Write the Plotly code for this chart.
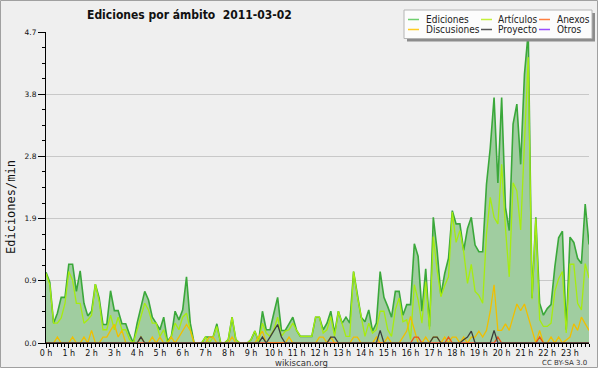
import plotly.graph_objects as go

# ---------------- data (10-minute bins, 2011-03-02) ----------------
hours_labels = [f"{h} h" for h in range(24)]
n_points = 144  # 0:00 .. 23:50

ediciones = [1.07, 0.92, 0.30, 0.45, 0.69, 0.69, 1.19, 1.19, 0.78, 1.09, 0.60, 0.41,
             0.48, 0.89, 0.68, 0.28, 0.28, 0.79, 0.49, 0.49, 0.29, 0.29, 0.13, 0.00,
             0.30, 0.55, 0.78, 0.65, 0.39, 0.30, 0.20, 0.39, 0.03, 0.10, 0.48, 0.35,
             0.50, 1.00, 0.30, 0.00, 0.00, 0.00, 0.09, 0.09, 0.09, 0.29, 0.00, 0.00,
             0.05, 0.39, 0.05, 0.00, 0.00, 0.00, 0.05, 0.18, 0.02, 0.48, 0.20, 0.20,
             0.45, 0.69, 0.19, 0.19, 0.29, 0.39, 0.19, 0.10, 0.10, 0.10, 0.10, 0.39,
             0.39, 0.20, 0.30, 0.48, 0.15, 0.48, 0.30, 0.39, 0.30, 1.08, 0.72, 0.39,
             0.32, 0.50, 0.18, 0.30, 1.08, 0.69, 0.55, 0.39, 0.78, 0.78, 0.42, 0.58,
             0.58, 1.50, 1.31, 0.48, 1.12, 0.25, 1.90, 1.40, 0.72, 1.05, 1.28, 2.00,
             1.80, 1.80, 1.40, 1.73, 1.90, 1.48, 1.38, 1.38, 2.40, 2.95, 3.71, 2.42,
             3.71, 2.05, 1.70, 3.31, 3.61, 2.70, 4.06, 4.70, 0.68, 1.90, 0.60, 0.42,
             0.52, 0.58, 1.15, 1.59, 1.69, 0.20, 1.60, 1.52, 1.28, 1.20, 2.10, 1.49]

articulos = [1.05, 0.88, 0.30, 0.30, 0.38, 0.60, 1.08, 0.95, 0.60, 0.60, 0.30, 0.35,
             0.42, 0.89, 0.63, 0.20, 0.20, 0.42, 0.20, 0.39, 0.20, 0.20, 0.05, 0.00,
             0.20, 0.42, 0.60, 0.50, 0.30, 0.30, 0.10, 0.20, 0.00, 0.10, 0.30, 0.20,
             0.39, 0.45, 0.20, 0.00, 0.00, 0.00, 0.09, 0.00, 0.09, 0.25, 0.00, 0.00,
             0.05, 0.39, 0.05, 0.00, 0.00, 0.00, 0.05, 0.18, 0.02, 0.30, 0.15, 0.10,
             0.20, 0.39, 0.10, 0.18, 0.20, 0.30, 0.19, 0.10, 0.10, 0.10, 0.10, 0.39,
             0.39, 0.15, 0.20, 0.40, 0.10, 0.48, 0.28, 0.10, 0.10, 1.08, 0.70, 0.38,
             0.10, 0.30, 0.15, 0.20, 0.48, 0.48, 0.20, 0.10, 0.50, 0.68, 0.32, 0.35,
             0.05, 0.88, 0.65, 0.30, 0.93, 0.20, 1.61, 1.10, 0.70, 0.87, 1.00, 1.98,
             1.52, 1.70, 1.38, 0.90, 1.19, 0.78, 0.72, 0.60, 1.65, 2.20, 1.90, 1.80,
             2.70, 1.74, 1.00, 2.42, 2.30, 1.71, 2.90, 4.32, 0.66, 1.88, 0.35, 0.25,
             0.25, 0.30, 0.78, 0.97, 1.08, 0.15, 1.19, 1.19, 0.60, 0.50, 1.20, 0.98]

discusiones = [0, 0, 0, 0.09, 0, 0, 0, 0.09, 0, 0, 0.09, 0,
               0.19, 0, 0, 0.09, 0.09, 0.19, 0.28, 0.09, 0.19, 0, 0, 0,
               0, 0.09, 0, 0, 0.09, 0, 0.09, 0, 0, 0.09, 0, 0.09,
               0.19, 0.28, 0.19, 0, 0, 0, 0, 0.09, 0.09, 0, 0, 0,
               0, 0.09, 0, 0, 0, 0, 0, 0, 0.09, 0.18, 0, 0,
               0, 0, 0, 0, 0.09, 0, 0, 0, 0, 0, 0, 0,
               0.09, 0.09, 0, 0.09, 0, 0, 0, 0, 0, 0.09, 0.09, 0,
               0, 0, 0, 0.09, 0, 0, 0.09, 0, 0, 0, 0.09, 0.18,
               0.40, 0.18, 0, 0, 0.09, 0, 0.09, 0.09, 0, 0.09, 0, 0.09,
               0.09, 0, 0.09, 0, 0.09, 0.09, 0.18, 0.09, 0.19, 0.48, 0.88, 0.19,
               0.19, 0.29, 0.19, 0.39, 0.59, 0.49, 0.59, 0.39, 0.19, 0, 0.19, 0,
               0, 0.09, 0, 0.09, 0, 0.05, 0.09, 0.29, 0.19, 0.39, 0.29, 0.19]

anexos = [0.0] * 144
for i in (97, 98, 106, 119, 130):
    anexos[i] = 0.09

proyecto = [0.0] * 144
for i, v in ((25, 0.09), (57, 0.09), (59, 0.09), (60, 0.19), (61, 0.28), (62, 0.09),
             (75, 0.09), (76, 0.09), (88, 0.19), (102, 0.09), (103, 0.09),
             (110, 0.05), (111, 0.09), (112, 0.18), (118, 0.19)):
    proyecto[i] = v

otros = [0.0] * 144

x_hours = [i / 6 for i in range(n_points)]

# drawing order (Ediciones area first, dark Proyecto last)
series_names = ["Ediciones", "Otros", "Artículos", "Discusiones", "Anexos", "Proyecto"]
series_values = [ediciones, otros, articulos, discusiones, anexos, proyecto]
line_colors = ["#3aa83a", "#9933ff", "#a6ec10", "#f0bf00", "#e8541a", "#3c3c3c"]

legend_order = ["Ediciones", "Artículos", "Anexos", "Discusiones", "Proyecto", "Otros"]
legend_colors = {"Ediciones": "#6fcf6f", "Artículos": "#c4f03a", "Anexos": "#ff7f40",
                 "Discusiones": "#ffcc22", "Proyecto": "#555555", "Otros": "#9b4dff"}

y_max = 4.7
y_ticks = [y_max * k / 5 for k in range(6)]
y_ticktext = [f"{v:.1f}" for v in y_ticks]

# ---------------- layout geometry ----------------
W_FIG, H_FIG = 600, 370
L, R, T, B = 46, 589, 32, 343
PW, PH = R - L, B - T


def px(x):
    return (x - L) / PW


def py(y):
    return (B - y) / PH


fig = go.Figure()
for name, vals, col in zip(series_names, series_values, line_colors):
    if name == "Ediciones":
        fig.add_trace(go.Scatter(x=x_hours, y=vals, name=name, mode="lines",
                                 line=dict(color=col, width=1.6), fill="tozeroy",
                                 fillcolor="#a0cda0"))
    else:
        fig.add_trace(go.Scatter(x=x_hours, y=vals, name=name, mode="lines",
                                 line=dict(color=col, width=1.3 if name != "Otros" else 1)))

shapes = []
# outer frame
shapes.append(dict(type="rect", xref="paper", yref="paper", layer="below",
                   x0=px(0.5), x1=px(597.5), y0=py(367.5), y1=py(0.5),
                   line=dict(color="#a0a0a0", width=1), fillcolor="#efefef"))
# legend box with shadow
shapes.append(dict(type="rect", xref="paper", yref="paper",
                   x0=px(407), x1=px(595), y0=py(41.5), y1=py(13),
                   line=dict(width=0), fillcolor="#8c8c8c"))
shapes.append(dict(type="rect", xref="paper", yref="paper",
                   x0=px(404), x1=px(592), y0=py(38.5), y1=py(10),
                   line=dict(color="#b4b4b4", width=1), fillcolor="#fcfcfc"))

annotations = []
col_line_x = [408, 481, 539]
col_text_x = [424, 496, 555]
row_y = [19.5, 29.5]
for k, name in enumerate(legend_order):
    r, c = divmod(k, 3)
    yy = row_y[r]
    shapes.append(dict(type="line", xref="paper", yref="paper",
                       x0=px(col_line_x[c]), x1=px(col_line_x[c] + 11),
                       y0=py(yy), y1=py(yy),
                       line=dict(color=legend_colors[name], width=1.5)))
    annotations.append(dict(xref="paper", yref="paper", x=px(col_text_x[c]), y=py(yy),
                            text=name, showarrow=False, xanchor="left", yanchor="middle",
                            font=dict(family="DejaVu Sans Condensed, DejaVu Sans", size=10,
                                      color="#222222")))

annotations.append(dict(xref="paper", yref="paper", x=px(85), y=py(14.5),
                        text="<b>Ediciones por ámbito  2011-03-02</b>", showarrow=False,
                        xanchor="left", yanchor="middle",
                        font=dict(family="DejaVu Sans Condensed, DejaVu Sans", size=12,
                                  color="#111111")))
annotations.append(dict(xref="paper", yref="paper", x=px(11), y=py(207),
                        text="Ediciones/min", textangle=-90, showarrow=False,
                        xanchor="center", yanchor="middle",
                        font=dict(family="DejaVu Sans Mono", size=12, color="#111111")))
annotations.append(dict(xref="paper", yref="paper", x=px(301), y=py(362.5),
                        text="wikiscan.org", showarrow=False, xanchor="center",
                        yanchor="middle",
                        font=dict(family="DejaVu Sans", size=8.5, color="#333333")))
annotations.append(dict(xref="paper", yref="paper", x=px(589), y=py(363),
                        text="CC BY-SA 3.0", showarrow=False, xanchor="right",
                        yanchor="middle",
                        font=dict(family="DejaVu Sans", size=7, color="#333333")))

fig.update_layout(
    width=W_FIG, height=H_FIG,
    margin=dict(l=L, r=W_FIG - R, t=T, b=H_FIG - B, pad=0),
    paper_bgcolor="#ffffff", plot_bgcolor="#eef0f1",
    showlegend=False,
    shapes=shapes, annotations=annotations,
    font=dict(family="DejaVu Sans", color="#111111"),
    xaxis=dict(range=[0, (n_points - 1) / 6], tickvals=list(range(24)),
               ticktext=hours_labels, ticks="outside", ticklen=4, tickwidth=1,
               tickcolor="#000000", showline=True, linecolor="#000000", linewidth=1,
               showgrid=False, zeroline=False, tickfont=dict(size=8, color="#111111"),
               ticklabelstandoff=-2,
               minor=dict(dtick=1 / 6, tick0=0, ticks="outside", ticklen=3,
                          tickcolor="#000000", showgrid=False)),
    yaxis=dict(range=[0, y_max], tickvals=y_ticks, ticktext=y_ticktext,
               ticks="outside", ticklen=7, tickwidth=1, tickcolor="#000000",
               showline=True, linecolor="#000000", linewidth=1,
               showgrid=True, gridcolor="#c8c8c8", gridwidth=1, zeroline=False,
               tickfont=dict(size=7.5, color="#111111"),
               minor=dict(dtick=y_max / 20, tick0=0, ticks="outside", ticklen=3,
                          tickcolor="#000000", showgrid=False)),
)

fig.write_html("out.html", config={"displayModeBar": False},
               post_script="document.body.style.margin='0';document.body.style.overflow='hidden';")
